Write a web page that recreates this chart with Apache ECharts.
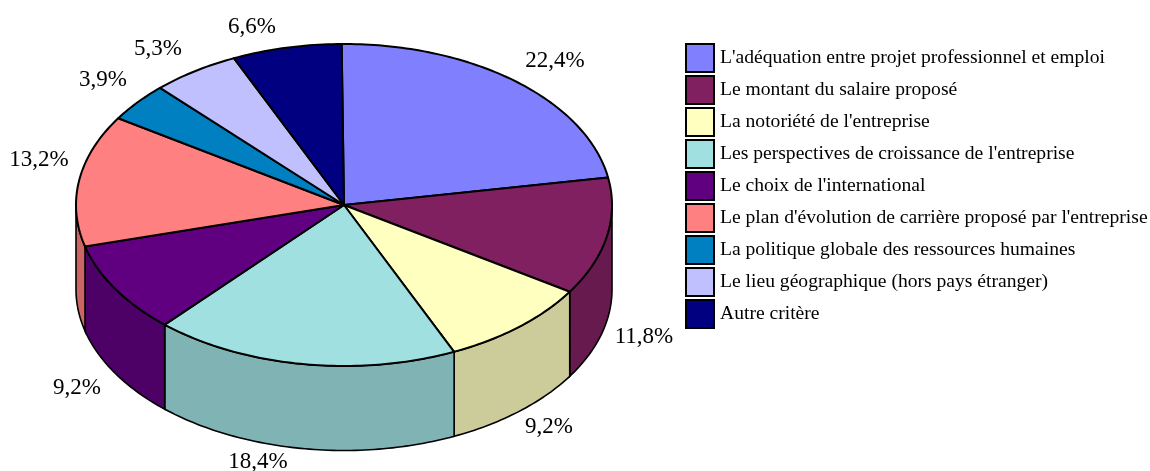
<!DOCTYPE html>
<html>
<head>
<meta charset="utf-8">
<title>Critères</title>
<style>
html, body { margin: 0; padding: 0; background: #fff; }
#draw { width: 1150px; height: 471px; }
</style>
<script src="https://cdn.jsdelivr.net/npm/echarts@6/dist/echarts.min.js"></script>
</head>
<body>
<div id="draw"></div>
<script>
var categories = [
	"L'adéquation entre projet professionnel et emploi",
	"Le montant du salaire proposé",
	"La notoriété de l'entreprise",
	"Les perspectives de croissance de l'entreprise",
	"Le choix de l'international",
	"Le plan d'évolution de carrière proposé par l'entreprise",
	"La politique globale des ressources humaines",
	"Le lieu géographique (hors pays étranger)",
	"Autre critère"
];
var values = [22.4, 11.8, 9.2, 18.4, 9.2, 13.2, 3.9, 5.3, 6.6];
var topColors = ['#8080ff', '#802060', '#ffffc0', '#a0e0e0', '#600080', '#ff8080', '#0080c0', '#c0c0ff', '#000080'];
var wallColors = ['#6666cc', '#661a4d', '#cccc9a', '#80b3b3', '#4d0066', '#cc6666', '#0066a0', '#9a9acc', '#000066'];

// layout of the fake 3d disc
var cx = 344, cy = 205, rx = 268, ry = 161, depth = 84.5, startAngle = -0.5;
var serif = '"Liberation Serif", "Times New Roman", serif';
// where the percent labels sit (dragged by hand in the original)
var labelCenters = [[555, 61], [644, 337], [549, 427], [258, 462], [77, 388], [39, 160], [103, 80], [158, 49], [252, 27]];

var total = values.reduce(function(a, b) { return a + b; }, 0);

function rim(deg, dy) {
	var r = deg * Math.PI / 180;
	return [cx + rx * Math.sin(r), cy - ry * Math.cos(r) + dy];
}

function arc(from, to, dy) {
	var pts = [];
	var n = Math.max(2, Math.ceil(Math.abs(to - from)));
	for (var i = 0; i <= n; i++) {
		pts.push(rim(from + (to - from) * i / n, dy));
	}
	return pts;
}

function sliceRenderer(idx) {
	return function(params, api) {
		var before = values.slice(0, idx).reduce(function(a, b) { return a + b; }, 0);
		var start = startAngle + before / total * 360;
		var end = start + api.value(0) / total * 360;
		var children = [];

		// only the front half of the wall shows
		var a = Math.max(start, 90), b = Math.min(end, 270);
		if (a < b) {
			children.push({
				type : 'polygon',
				z2 : 1,
				shape : { points : arc(a, b, 0).concat(arc(b, a, depth)) },
				style : { fill : wallColors[idx], stroke : '#000', lineWidth : 1.6 }
			});
		}
		children.push({
			type : 'polygon',
			z2 : 2,
			shape : { points : [[cx, cy]].concat(arc(start, end, 0)) },
			style : { fill : topColors[idx], stroke : '#000', lineWidth : 2, lineJoin : 'round' }
		});
		children.push({
			type : 'text',
			z2 : 3,
			x : labelCenters[idx][0],
			y : labelCenters[idx][1],
			style : {
				text : api.value(0).toFixed(1).replace('.', ',') + '%',
				font : '23px ' + serif,
				fill : '#000',
				align : 'center',
				verticalAlign : 'middle'
			}
		});
		return { type : 'group', children : children };
	};
}

var myChart = echarts.init(document.getElementById('draw'));
var option = {
	animation : false,
	backgroundColor : '#fff',
	legend : {
		orient : 'vertical',
		left : 685,
		top : 43,
		padding : 0,
		itemWidth : 28,
		itemHeight : 28,
		itemGap : 2,
		icon : 'rect',
		selectedMode : false,
		data : categories,
		itemStyle : { borderColor : '#000', borderWidth : 2 },
		textStyle : { fontFamily : serif, fontSize : 19.6, lineHeight : 24, color : '#000', padding : [0, 0, 4, 1] }
	},
	series : categories.map(function(name, i) {
		return {
			name : name,
			type : 'custom',
			coordinateSystem : 'none',
			silent : true,
			itemStyle : { color : topColors[i] },
			renderItem : sliceRenderer(i),
			data : [[values[i]]]
		};
	})
};
myChart.setOption(option);
</script>
</body>
</html>
